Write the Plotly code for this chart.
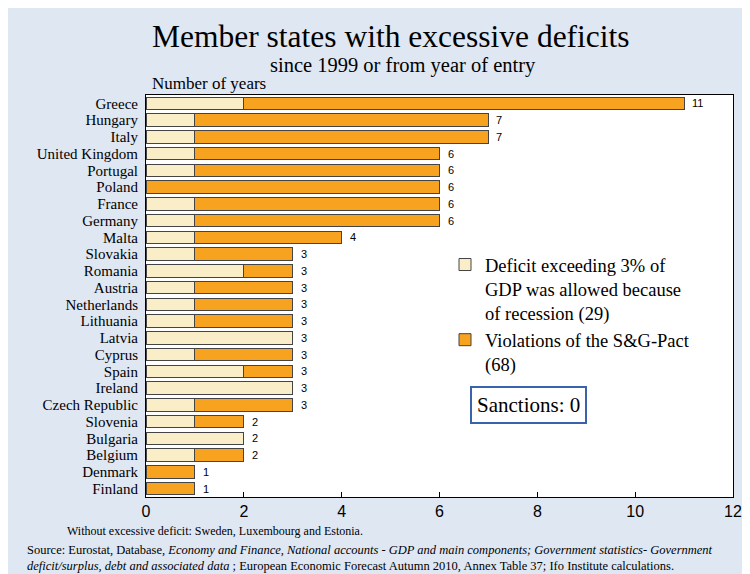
import plotly.graph_objects as go

countries = ["Greece", "Hungary", "Italy", "United Kingdom", "Portugal", "Poland",
             "France", "Germany", "Malta", "Slovakia", "Romania", "Austria",
             "Netherlands", "Lithuania", "Latvia", "Cyprus", "Spain", "Ireland",
             "Czech Republic", "Slovenia", "Bulgaria", "Belgium", "Denmark", "Finland"]
allowed = [2, 1, 1, 1, 1, 0, 1, 1, 1, 1, 2, 1, 1, 1, 3, 1, 2, 3, 1, 1, 2, 1, 0, 0]
violations = [9, 6, 6, 5, 5, 6, 5, 5, 3, 2, 1, 2, 2, 2, 0, 2, 1, 0, 2, 1, 0, 1, 1, 1]
totals = [a + v for a, v in zip(allowed, violations)]
x_ticks = [0, 2, 4, 6, 8, 10, 12]

CREAM = "#faeec8"
ORANGE = "#f7a31f"
BG = "#dfe7f3"
SERIF = "Liberation Serif, Times New Roman, serif"
SANS = "Liberation Sans, Arial, sans-serif"

fig = go.Figure()
fig.add_trace(go.Bar(
    y=countries, x=allowed, orientation="h",
    name="Deficit exceeding 3% of<br>GDP was allowed because<br>of recession (29)",
    marker=dict(color=CREAM, line=dict(color="#444444", width=1)),
))
fig.add_trace(go.Bar(
    y=countries, x=violations, orientation="h",
    name="Violations of the S&G-Pact<br>(68)",
    marker=dict(color=ORANGE, line=dict(color="#444444", width=1)),
))

# page offset of the figure (body margin)
OFF = 8
W, H = 750, 574
L, R, T, B = 138, 25, 87, 85
pw, ph = W - L - R, H - T - B

def px(xp):
    return (xp - OFF - L) / pw

def py(yp):
    return (H - B - (yp - OFF)) / ph

value_labels = [
    dict(text=str(t), x=t, y=c, xref="x", yref="y", xanchor="left", yanchor="middle",
         xshift=6, showarrow=False, font=dict(family=SANS, size=11, color="black"))
    for c, t in zip(countries, totals)
]

fig.update_layout(
    width=W, height=H,
    margin=dict(l=L, r=R, t=T, b=B, pad=0),
    barmode="stack", bargap=0.25,
    paper_bgcolor=BG, plot_bgcolor="white",
    font=dict(family=SERIF, color="black"),
    showlegend=True,
    legend=dict(
        x=px(445), y=py(246), xanchor="left", yanchor="top", traceorder="normal",
        bgcolor="rgba(0,0,0,0)", font=dict(family=SERIF, size=18.5),
        valign="top", tracegroupgap=5, itemwidth=30,
    ),
    xaxis=dict(
        range=[0, 12], tickvals=x_ticks, ticks="inside", ticklen=5, tickcolor="black",
        showgrid=False, zeroline=False, showline=True, linecolor="black", linewidth=1,
        mirror=True, tickfont=dict(family=SANS, size=16), fixedrange=True,
    ),
    yaxis=dict(
        categoryorder="array", categoryarray=countries, autorange="reversed",
        tickmode="array", tickvals=countries, ticktext=countries,
        showgrid=False, zeroline=False, showline=True, linecolor="black", linewidth=1,
        mirror=True, ticks="", tickfont=dict(family=SERIF, size=15), ticklabelstandoff=4,
    ),
    annotations=value_labels + [
        dict(text="Member states with excessive deficits", xref="paper", yref="paper",
             x=px(391), y=py(36), xanchor="center", yanchor="middle", showarrow=False,
             font=dict(family=SERIF, size=31.5)),
        dict(text="since 1999 or from year of entry", xref="paper", yref="paper",
             x=px(403), y=py(65), xanchor="center", yanchor="middle", showarrow=False,
             font=dict(family=SERIF, size=20.5)),
        dict(text="Number of years", xref="paper", yref="paper",
             x=px(150), y=py(84), xanchor="left", yanchor="middle", showarrow=False,
             font=dict(family=SERIF, size=17)),
        dict(text="Sanctions: 0", xref="paper", yref="paper",
             x=px(528), y=py(405), xanchor="center", yanchor="middle", showarrow=False,
             font=dict(family=SERIF, size=21), bordercolor="#3b62ad", borderwidth=2,
             borderpad=5, bgcolor="white"),
        dict(text="Without excessive deficit: Sweden, Luxembourg and Estonia.",
             xref="paper", yref="paper", x=px(65), y=py(531), xanchor="left",
             yanchor="middle", showarrow=False, font=dict(family=SERIF, size=12)),
        dict(text="Source: Eurostat, Database, <i>Economy and Finance, National accounts - GDP and main components; "
                  "Government statistics- Government</i><br><i>deficit/surplus, debt and associated data</i> ; "
                  "European Economic Forecast Autumn 2010, Annex Table 37; Ifo Institute calculations.",
             xref="paper", yref="paper", x=px(25), y=py(541), xanchor="left", yanchor="top",
             align="left", showarrow=False, font=dict(family=SERIF, size=12.5)),
    ],
)

fig.write_html("out.html")
